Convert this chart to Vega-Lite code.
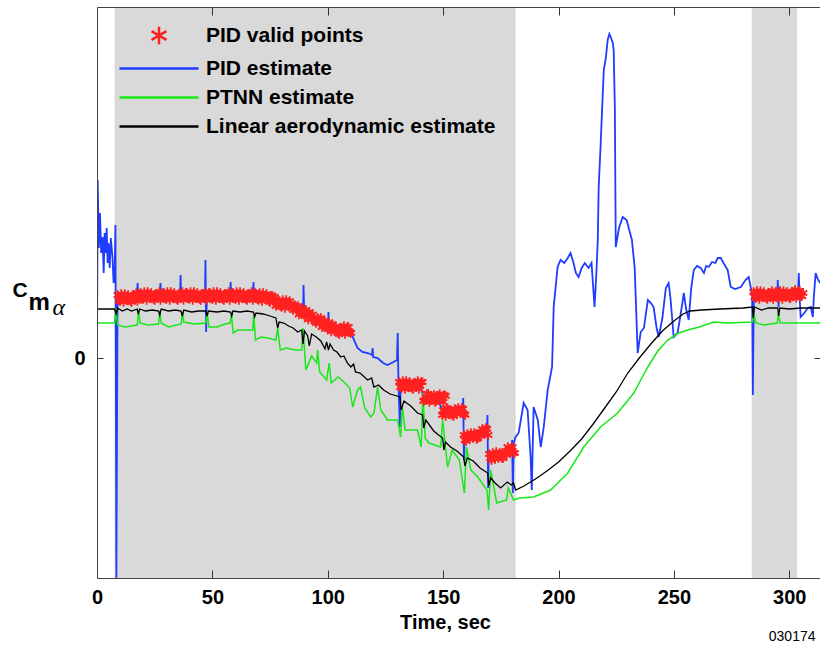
{
"$schema": "https://vega.github.io/schema/vega-lite/v6.json",
"width": 723, "height": 571,
"autosize": {"type": "none"},
"padding": {"left": 97, "top": 7, "right": 0, "bottom": 68},
"background": "white",
"config": {"font": "Liberation Sans", "view": {"stroke": null}},
"title": {"text": "030174", "orient": "bottom", "anchor": "end", "fontSize": 14, "fontWeight": "normal", "font": "Liberation Sans", "color": "#000", "offset": 0, "dy": -2, "dx": -5},
"datasets": {
"shade": [{"a": 7.6, "b": 181.4}, {"a": 283.7, "b": 303.4}],
"blue": [
{"t":0,"y":0.0},{"t":0.3,"y":1.78},{"t":0.8,"y":1.10},{"t":1.3,"y":1.45},{"t":1.8,"y":1.05},{"t":2.4,"y":1.21},{"t":2.9,"y":0.85},{"t":3.3,"y":1.25},{"t":3.7,"y":1.05},{"t":4.2,"y":1.30},{"t":4.6,"y":0.95},{"t":5.0,"y":1.15},{"t":5.5,"y":0.90},{"t":6.0,"y":1.20},{"t":6.7,"y":1.01},{"t":7.2,"y":0.75},{"t":7.6,"y":0.80},{"t":8.0,"y":1.33},{"t":8.4,"y":-2.2},{"t":8.9,"y":0.58},{"t":12,"y":0.60},{"t":17.3,"y":0.60},{"t":17.6,"y":0.75},{"t":17.9,"y":0.58},{"t":22,"y":0.61},{"t":27.2,"y":0.61},{"t":27.5,"y":0.75},{"t":27.8,"y":0.60},{"t":32,"y":0.61},{"t":36.0,"y":0.62},{"t":36.2,"y":0.83},{"t":36.5,"y":0.60},{"t":42,"y":0.62},{"t":46.8,"y":0.62},{"t":47.0,"y":0.98},{"t":47.3,"y":0.26},{"t":47.6,"y":0.60},{"t":52,"y":0.62},{"t":57.7,"y":0.61},{"t":57.9,"y":0.76},{"t":58.2,"y":0.59},{"t":63,"y":0.61},{"t":67.6,"y":0.61},{"t":67.8,"y":0.76},{"t":68.1,"y":0.58},{"t":73,"y":0.60},{"t":76,"y":0.59},{"t":78,"y":0.53},{"t":83,"y":0.53},{"t":87,"y":0.46},{"t":89.3,"y":0.45},{"t":89.5,"y":0.73},{"t":89.8,"y":0.43},{"t":94,"y":0.39},{"t":98,"y":0.34},{"t":100.1,"y":0.32},{"t":100.3,"y":0.46},{"t":100.6,"y":0.29},{"t":105,"y":0.27},{"t":109.5,"y":0.26},{"t":110.8,"y":0.21},{"t":112.9,"y":0.10},{"t":115,"y":0.06},{"t":117.3,"y":0.05},{"t":119.2,"y":0.03},{"t":119.4,"y":0.10},{"t":119.7,"y":0.01},{"t":121.6,"y":0.00},{"t":124,"y":-0.05},{"t":125.9,"y":-0.07},{"t":128.5,"y":-0.04},{"t":130.0,"y":-0.02},{"t":130.3,"y":0.25},{"t":130.6,"y":-0.19},{"t":131.2,"y":-0.69},{"t":131.6,"y":-0.27},{"t":136,"y":-0.27},{"t":140.5,"y":-0.30},{"t":141.5,"y":-0.40},{"t":148,"y":-0.42},{"t":149.5,"y":-0.52},{"t":152,"y":-0.54},{"t":158.4,"y":-0.54},{"t":158.7,"y":-0.40},{"t":159.0,"y":-1.02},{"t":159.3,"y":-0.78},{"t":164,"y":-0.77},{"t":168.9,"y":-0.75},{"t":169.2,"y":-0.57},{"t":169.5,"y":-1.30},{"t":169.8,"y":-0.97},{"t":175,"y":-0.95},{"t":179.6,"y":-0.92},{"t":179.9,"y":-0.82},{"t":180.2,"y":-1.35},{"t":180.6,"y":-0.85},{"t":181.4,"y":-0.79},{"t":182.7,"y":-0.75},{"t":184.9,"y":-0.45},{"t":186.6,"y":-0.52},{"t":187.9,"y":-0.99},{"t":188.4,"y":-1.32},{"t":189.2,"y":-0.49},{"t":191.0,"y":-0.62},{"t":192.3,"y":-0.89},{"t":193.6,"y":-0.69},{"t":195.3,"y":-0.32},{"t":197.2,"y":-0.09},{"t":197.9,"y":0.51},{"t":199.6,"y":0.91},{"t":200.9,"y":0.98},{"t":202.5,"y":0.95},{"t":204.0,"y":1.00},{"t":205.2,"y":1.05},{"t":206.5,"y":0.95},{"t":207.5,"y":0.85},{"t":208.7,"y":0.81},{"t":210,"y":0.90},{"t":211.4,"y":0.95},{"t":213.0,"y":0.90},{"t":214.3,"y":0.95},{"t":215.6,"y":0.51},{"t":216.4,"y":0.85},{"t":217.0,"y":1.18},{"t":217.4,"y":1.71},{"t":218.2,"y":2.11},{"t":219.6,"y":2.88},{"t":220.5,"y":3.00},{"t":221.3,"y":3.18},{"t":222.0,"y":3.24},{"t":222.6,"y":3.21},{"t":223.5,"y":3.15},{"t":223.9,"y":3.08},{"t":224.4,"y":2.5},{"t":224.8,"y":1.11},{"t":226.2,"y":1.30},{"t":227.8,"y":1.41},{"t":229.5,"y":1.38},{"t":231.8,"y":1.18},{"t":233.0,"y":0.90},{"t":234.3,"y":0.05},{"t":235.6,"y":0.26},{"t":237,"y":0.30},{"t":238.7,"y":0.58},{"t":240,"y":0.55},{"t":241.2,"y":0.51},{"t":242.5,"y":0.30},{"t":243.4,"y":0.21},{"t":245,"y":0.40},{"t":246.5,"y":0.70},{"t":247.7,"y":0.75},{"t":248.5,"y":0.60},{"t":249.9,"y":0.21},{"t":251.6,"y":0.25},{"t":253,"y":0.45},{"t":254.3,"y":0.65},{"t":255.2,"y":0.50},{"t":256.4,"y":0.38},{"t":257.5,"y":0.70},{"t":258.6,"y":0.88},{"t":260,"y":0.92},{"t":261.6,"y":0.90},{"t":263,"y":0.85},{"t":264,"y":0.92},{"t":265.1,"y":0.91},{"t":266.5,"y":0.96},{"t":268,"y":0.95},{"t":269,"y":1.00},{"t":270.3,"y":1.00},{"t":271.5,"y":0.95},{"t":273.3,"y":0.88},{"t":274.6,"y":0.71},{"t":276.5,"y":0.69},{"t":279.0,"y":0.71},{"t":281,"y":0.78},{"t":282.4,"y":0.81},{"t":283.5,"y":0.68},{"t":283.9,"y":0.62},{"t":284.2,"y":-0.37},{"t":284.6,"y":0.60},{"t":290,"y":0.62},{"t":294.8,"y":0.62},{"t":295.0,"y":0.78},{"t":295.3,"y":0.51},{"t":295.6,"y":0.60},{"t":303,"y":0.62},{"t":303.7,"y":0.62},{"t":304.1,"y":0.85},{"t":304.6,"y":0.55},{"t":304.9,"y":0.41},{"t":306.5,"y":0.45},{"t":308,"y":0.50},{"t":309.3,"y":0.51},{"t":310.2,"y":0.41},{"t":310.6,"y":0.60},{"t":311.4,"y":0.85},{"t":312.5,"y":0.78},{"t":313.4,"y":0.75}],
"green": [
{"t":0,"y":0.35},{"t":7.6,"y":0.35},{"t":8.2,"y":0.50},{"t":8.9,"y":0.33},{"t":12,"y":0.31},{"t":15,"y":0.32},{"t":17.5,"y":0.33},{"t":18.0,"y":0.48},{"t":18.7,"y":0.35},{"t":22,"y":0.33},{"t":26.7,"y":0.34},{"t":27.2,"y":0.47},{"t":27.8,"y":0.35},{"t":31,"y":0.31},{"t":36.5,"y":0.34},{"t":37.0,"y":0.46},{"t":37.6,"y":0.36},{"t":42,"y":0.34},{"t":47.2,"y":0.35},{"t":47.8,"y":0.44},{"t":48.5,"y":0.31},{"t":52,"y":0.31},{"t":55.5,"y":0.34},{"t":57.7,"y":0.35},{"t":58.2,"y":0.45},{"t":59,"y":0.25},{"t":61,"y":0.28},{"t":65,"y":0.28},{"t":67.5,"y":0.28},{"t":67.9,"y":0.43},{"t":68.7,"y":0.18},{"t":71,"y":0.21},{"t":74,"y":0.20},{"t":77.5,"y":0.18},{"t":78.3,"y":0.30},{"t":79.4,"y":0.08},{"t":82,"y":0.10},{"t":86,"y":0.08},{"t":88.7,"y":0.08},{"t":89.3,"y":0.30},{"t":90.5,"y":-0.12},{"t":93,"y":0.02},{"t":95.2,"y":-0.05},{"t":95.6,"y":0.08},{"t":96.5,"y":-0.14},{"t":99.5,"y":-0.22},{"t":100.6,"y":-0.05},{"t":101.5,"y":-0.25},{"t":104.5,"y":-0.19},{"t":107.5,"y":-0.25},{"t":109.5,"y":-0.30},{"t":110.8,"y":-0.49},{"t":112.9,"y":-0.32},{"t":114.2,"y":-0.29},{"t":116,"y":-0.50},{"t":118.6,"y":-0.59},{"t":120,"y":-0.55},{"t":121.6,"y":-0.29},{"t":123,"y":-0.52},{"t":125.9,"y":-0.62},{"t":130.3,"y":-0.62},{"t":131.6,"y":-0.79},{"t":132.3,"y":-0.49},{"t":133.5,"y":-0.72},{"t":138.9,"y":-0.72},{"t":140.5,"y":-0.89},{"t":141.2,"y":-0.35},{"t":142.2,"y":-0.80},{"t":143.8,"y":-0.85},{"t":148.9,"y":-0.89},{"t":149.8,"y":-0.62},{"t":151.9,"y":-1.09},{"t":153.9,"y":-0.92},{"t":157,"y":-1.02},{"t":159.2,"y":-1.35},{"t":160.1,"y":-0.89},{"t":162,"y":-1.12},{"t":165,"y":-1.19},{"t":169.0,"y":-1.32},{"t":169.7,"y":-1.52},{"t":170.6,"y":-1.12},{"t":173.2,"y":-1.45},{"t":177.5,"y":-1.42},{"t":178.2,"y":-1.30},{"t":180.5,"y":-1.42},{"t":183,"y":-1.40},{"t":189.2,"y":-1.39},{"t":196.6,"y":-1.32},{"t":204,"y":-1.15},{"t":210.9,"y":-0.89},{"t":218.2,"y":-0.69},{"t":225.6,"y":-0.55},{"t":232.6,"y":-0.35},{"t":235.6,"y":-0.22},{"t":238.7,"y":-0.09},{"t":243,"y":0.07},{"t":247.3,"y":0.18},{"t":252,"y":0.25},{"t":256,"y":0.28},{"t":261,"y":0.31},{"t":267.3,"y":0.36},{"t":273.3,"y":0.35},{"t":284.0,"y":0.36},{"t":284.6,"y":0.45},{"t":285.5,"y":0.35},{"t":289,"y":0.33},{"t":294.8,"y":0.35},{"t":295.2,"y":0.45},{"t":296,"y":0.35},{"t":300.6,"y":0.35},{"t":313.4,"y":0.35}],
"black": [
{"t":0,"y":0.49},{"t":7.6,"y":0.49},{"t":8.3,"y":0.44},{"t":8.9,"y":0.50},{"t":11,"y":0.47},{"t":13,"y":0.49},{"t":15,"y":0.47},{"t":17.4,"y":0.49},{"t":17.9,"y":0.44},{"t":18.5,"y":0.49},{"t":21,"y":0.47},{"t":24,"y":0.48},{"t":26.7,"y":0.47},{"t":27.2,"y":0.43},{"t":27.8,"y":0.49},{"t":31,"y":0.47},{"t":34,"y":0.48},{"t":36.4,"y":0.47},{"t":37.0,"y":0.42},{"t":37.6,"y":0.48},{"t":41,"y":0.46},{"t":44,"y":0.47},{"t":47.2,"y":0.47},{"t":47.7,"y":0.42},{"t":48.3,"y":0.47},{"t":52,"y":0.46},{"t":55,"y":0.47},{"t":57.9,"y":0.46},{"t":58.4,"y":0.42},{"t":58.9,"y":0.47},{"t":62,"y":0.46},{"t":65,"y":0.47},{"t":67.8,"y":0.46},{"t":68.3,"y":0.41},{"t":68.9,"y":0.45},{"t":72,"y":0.44},{"t":75,"y":0.42},{"t":77.5,"y":0.40},{"t":78.3,"y":0.30},{"t":78.9,"y":0.36},{"t":81,"y":0.35},{"t":83,"y":0.32},{"t":85,"y":0.30},{"t":87,"y":0.26},{"t":88.7,"y":0.28},{"t":89.3,"y":0.14},{"t":89.9,"y":0.27},{"t":91.3,"y":0.22},{"t":92,"y":0.12},{"t":93,"y":0.24},{"t":95,"y":0.21},{"t":97,"y":0.17},{"t":98.8,"y":0.09},{"t":99.5,"y":0.16},{"t":100.3,"y":0.08},{"t":101,"y":0.14},{"t":102.5,"y":0.08},{"t":104,"y":0.06},{"t":105.6,"y":0.01},{"t":107,"y":0.02},{"t":108.5,"y":-0.05},{"t":110,"y":-0.09},{"t":111.2,"y":-0.06},{"t":112,"y":-0.14},{"t":114,"y":-0.15},{"t":117.3,"y":-0.22},{"t":119,"y":-0.20},{"t":120,"y":-0.29},{"t":122,"y":-0.27},{"t":124.2,"y":-0.32},{"t":127,"y":-0.36},{"t":130,"y":-0.38},{"t":131.3,"y":-0.39},{"t":131.8,"y":-0.52},{"t":133,"y":-0.43},{"t":136,"y":-0.48},{"t":138.9,"y":-0.55},{"t":141.1,"y":-0.57},{"t":141.6,"y":-0.70},{"t":142.5,"y":-0.62},{"t":145.9,"y":-0.73},{"t":148,"y":-0.77},{"t":149.8,"y":-0.80},{"t":150.3,"y":-0.92},{"t":151,"y":-0.84},{"t":153.2,"y":-0.89},{"t":156,"y":-0.93},{"t":158.9,"y":-0.99},{"t":159.4,"y":-1.08},{"t":160.5,"y":-1.00},{"t":163,"y":-1.03},{"t":166,"y":-1.10},{"t":169.3,"y":-1.15},{"t":169.8,"y":-1.28},{"t":170.6,"y":-1.20},{"t":172.5,"y":-1.25},{"t":174.9,"y":-1.30},{"t":177.8,"y":-1.24},{"t":179.5,"y":-1.27},{"t":180.5,"y":-1.25},{"t":181.4,"y":-1.32},{"t":185,"y":-1.28},{"t":190,"y":-1.21},{"t":195,"y":-1.13},{"t":200,"y":-1.04},{"t":205,"y":-0.93},{"t":210,"y":-0.81},{"t":215,"y":-0.66},{"t":220,"y":-0.50},{"t":225,"y":-0.34},{"t":230,"y":-0.15},{"t":235,"y":0.00},{"t":240,"y":0.14},{"t":245,"y":0.27},{"t":250,"y":0.37},{"t":254,"y":0.44},{"t":257,"y":0.47},{"t":262,"y":0.48},{"t":270,"y":0.49},{"t":280,"y":0.50},{"t":284.0,"y":0.51},{"t":284.4,"y":0.40},{"t":284.8,"y":0.51},{"t":288,"y":0.48},{"t":291,"y":0.50},{"t":295.0,"y":0.50},{"t":295.4,"y":0.42},{"t":295.9,"y":0.50},{"t":300,"y":0.49},{"t":305,"y":0.50},{"t":313.4,"y":0.50}],
"red": [
{"t":9,"y":0.63},{"t":10,"y":0.57},{"t":11,"y":0.61},{"t":12,"y":0.64},{"t":13,"y":0.58},{"t":14,"y":0.60},{"t":15,"y":0.56},{"t":16,"y":0.63},{"t":17,"y":0.65},{"t":18,"y":0.60},{"t":19,"y":0.65},{"t":20,"y":0.59},{"t":21,"y":0.63},{"t":22,"y":0.66},{"t":23,"y":0.60},{"t":24,"y":0.62},{"t":25,"y":0.58},{"t":26,"y":0.64},{"t":27,"y":0.66},{"t":28,"y":0.61},{"t":29,"y":0.65},{"t":30,"y":0.59},{"t":31,"y":0.63},{"t":32,"y":0.66},{"t":33,"y":0.60},{"t":34,"y":0.62},{"t":35,"y":0.58},{"t":36,"y":0.64},{"t":37,"y":0.66},{"t":38,"y":0.61},{"t":39,"y":0.65},{"t":40,"y":0.59},{"t":41,"y":0.63},{"t":42,"y":0.66},{"t":43,"y":0.60},{"t":44,"y":0.62},{"t":45,"y":0.58},{"t":46,"y":0.64},{"t":47,"y":0.66},{"t":48,"y":0.61},{"t":49,"y":0.65},{"t":50,"y":0.59},{"t":51,"y":0.63},{"t":52,"y":0.66},{"t":53,"y":0.60},{"t":54,"y":0.62},{"t":55,"y":0.58},{"t":56,"y":0.64},{"t":57,"y":0.66},{"t":58,"y":0.61},{"t":59,"y":0.65},{"t":60,"y":0.59},{"t":61,"y":0.63},{"t":62,"y":0.66},{"t":63,"y":0.60},{"t":64,"y":0.62},{"t":65,"y":0.58},{"t":66,"y":0.64},{"t":67,"y":0.66},{"t":68,"y":0.61},{"t":69,"y":0.64},{"t":70,"y":0.58},{"t":71,"y":0.62},{"t":72,"y":0.65},{"t":73,"y":0.59},{"t":74,"y":0.60},{"t":75,"y":0.56},{"t":76,"y":0.62},{"t":77,"y":0.61},{"t":78,"y":0.54},{"t":79,"y":0.57},{"t":80,"y":0.51},{"t":81,"y":0.55},{"t":82,"y":0.58},{"t":83,"y":0.52},{"t":84,"y":0.54},{"t":85,"y":0.48},{"t":86,"y":0.52},{"t":87,"y":0.52},{"t":88,"y":0.46},{"t":89,"y":0.49},{"t":90,"y":0.42},{"t":91,"y":0.44},{"t":92,"y":0.46},{"t":93,"y":0.39},{"t":94,"y":0.40},{"t":95,"y":0.35},{"t":96,"y":0.39},{"t":97,"y":0.40},{"t":98,"y":0.33},{"t":99,"y":0.36},{"t":100,"y":0.29},{"t":101,"y":0.32},{"t":102,"y":0.34},{"t":103,"y":0.27},{"t":104,"y":0.28},{"t":105,"y":0.24},{"t":106,"y":0.30},{"t":107,"y":0.32},{"t":108,"y":0.27},{"t":109,"y":0.31},{"t":110,"y":0.25},
{"t":9.5,"y":0.58},{"t":10.5,"y":0.64},{"t":11.5,"y":0.56},{"t":12.5,"y":0.61},{"t":13.5,"y":0.63},{"t":14.5,"y":0.57},{"t":15.5,"y":0.62},{"t":16.5,"y":0.60},{"t":17.5,"y":0.57},{"t":18.5,"y":0.64},{"t":19.5,"y":0.60},{"t":20.5,"y":0.66},{"t":21.5,"y":0.58},{"t":22.5,"y":0.63},{"t":23.5,"y":0.65},{"t":24.5,"y":0.59},{"t":25.5,"y":0.64},{"t":26.5,"y":0.61},{"t":27.5,"y":0.58},{"t":28.5,"y":0.65},{"t":29.5,"y":0.60},{"t":30.5,"y":0.66},{"t":31.5,"y":0.58},{"t":32.5,"y":0.63},{"t":33.5,"y":0.65},{"t":34.5,"y":0.59},{"t":35.5,"y":0.64},{"t":36.5,"y":0.61},{"t":37.5,"y":0.58},{"t":38.5,"y":0.65},{"t":39.5,"y":0.60},{"t":40.5,"y":0.66},{"t":41.5,"y":0.58},{"t":42.5,"y":0.63},{"t":43.5,"y":0.65},{"t":44.5,"y":0.59},{"t":45.5,"y":0.64},{"t":46.5,"y":0.61},{"t":47.5,"y":0.58},{"t":48.5,"y":0.65},{"t":49.5,"y":0.60},{"t":50.5,"y":0.66},{"t":51.5,"y":0.58},{"t":52.5,"y":0.63},{"t":53.5,"y":0.65},{"t":54.5,"y":0.59},{"t":55.5,"y":0.64},{"t":56.5,"y":0.61},{"t":57.5,"y":0.58},{"t":58.5,"y":0.65},{"t":59.5,"y":0.60},{"t":60.5,"y":0.66},{"t":61.5,"y":0.58},{"t":62.5,"y":0.63},{"t":63.5,"y":0.65},{"t":64.5,"y":0.59},{"t":65.5,"y":0.64},{"t":66.5,"y":0.61},{"t":67.5,"y":0.58},{"t":68.5,"y":0.65},{"t":69.5,"y":0.59},{"t":70.5,"y":0.65},{"t":71.5,"y":0.57},{"t":72.5,"y":0.62},{"t":73.5,"y":0.64},{"t":74.5,"y":0.57},{"t":75.5,"y":0.62},{"t":76.5,"y":0.57},{"t":77.5,"y":0.52},{"t":78.5,"y":0.57},{"t":79.5,"y":0.52},{"t":80.5,"y":0.58},{"t":81.5,"y":0.50},{"t":82.5,"y":0.55},{"t":83.5,"y":0.57},{"t":84.5,"y":0.50},{"t":85.5,"y":0.53},{"t":86.5,"y":0.48},{"t":87.5,"y":0.435},{"t":88.5,"y":0.495},{"t":89.5,"y":0.435},{"t":90.5,"y":0.48},{"t":91.5,"y":0.385},{"t":92.5,"y":0.425},{"t":93.5,"y":0.435},{"t":94.5,"y":0.365},{"t":95.5,"y":0.40},{"t":96.5,"y":0.355},{"t":97.5,"y":0.31},{"t":98.5,"y":0.365},{"t":99.5,"y":0.305},{"t":100.5,"y":0.355},{"t":101.5,"y":0.265},{"t":102.5,"y":0.305},{"t":103.5,"y":0.315},{"t":104.5,"y":0.25},{"t":105.5,"y":0.30},{"t":106.5,"y":0.27},{"t":107.5,"y":0.24},{"t":108.5,"y":0.31},{"t":109.5,"y":0.26},
{"t":131,"y":-0.24},{"t":132,"y":-0.30},{"t":133,"y":-0.26},{"t":134,"y":-0.23},{"t":135,"y":-0.29},{"t":136,"y":-0.27},{"t":137,"y":-0.31},{"t":138,"y":-0.25},{"t":139,"y":-0.23},{"t":140,"y":-0.28},{"t":141,"y":-0.24},
{"t":131.5,"y":-0.29},{"t":132.5,"y":-0.23},{"t":133.5,"y":-0.31},{"t":134.5,"y":-0.26},{"t":135.5,"y":-0.24},{"t":136.5,"y":-0.30},{"t":137.5,"y":-0.25},{"t":138.5,"y":-0.28},{"t":139.5,"y":-0.31},{"t":140.5,"y":-0.24},
{"t":141.5,"y":-0.43},{"t":142.5,"y":-0.39},{"t":143.5,"y":-0.36},{"t":144.5,"y":-0.42},{"t":145.5,"y":-0.40},{"t":146.5,"y":-0.44},{"t":147.5,"y":-0.38},{"t":148.5,"y":-0.36},{"t":149.5,"y":-0.41},{"t":150.5,"y":-0.37},
{"t":142,"y":-0.42},{"t":143,"y":-0.36},{"t":144,"y":-0.44},{"t":145,"y":-0.39},{"t":146,"y":-0.37},{"t":147,"y":-0.43},{"t":148,"y":-0.38},{"t":149,"y":-0.41},{"t":150,"y":-0.44},{"t":151,"y":-0.38},
{"t":149.6,"y":-0.57},{"t":150.6,"y":-0.53},{"t":151.5,"y":-0.50},{"t":152.5,"y":-0.56},{"t":153.5,"y":-0.54},{"t":154.5,"y":-0.58},{"t":155.5,"y":-0.52},{"t":156.5,"y":-0.50},{"t":157.5,"y":-0.55},{"t":158.5,"y":-0.51},{"t":159.5,"y":-0.57},
{"t":150.1,"y":-0.52},{"t":151.1,"y":-0.58},{"t":152,"y":-0.51},{"t":153,"y":-0.55},{"t":154,"y":-0.57},{"t":155,"y":-0.51},{"t":156,"y":-0.56},{"t":157,"y":-0.53},{"t":158,"y":-0.50},{"t":159.1,"y":-0.56},
{"t":159,"y":-0.77},{"t":160,"y":-0.83},{"t":161,"y":-0.78},{"t":162,"y":-0.75},{"t":163,"y":-0.80},{"t":164,"y":-0.77},{"t":165,"y":-0.80},{"t":166,"y":-0.74},{"t":167,"y":-0.71},{"t":168,"y":-0.75},{"t":169,"y":-0.71},{"t":169.5,"y":-0.77},
{"t":159.5,"y":-0.82},{"t":160.5,"y":-0.76},{"t":161.5,"y":-0.81},{"t":162.5,"y":-0.78},{"t":163.5,"y":-0.75},{"t":164.5,"y":-0.81},{"t":165.5,"y":-0.76},{"t":166.5,"y":-0.78},{"t":167.5,"y":-0.75},{"t":168.5,"y":-0.70},
{"t":170,"y":-0.96},{"t":171,"y":-1.02},{"t":172,"y":-0.97},{"t":173,"y":-0.94},{"t":174,"y":-1.00},{"t":175,"y":-0.97},{"t":176,"y":-1.00},{"t":177,"y":-0.93},{"t":178,"y":-0.89},{"t":179,"y":-0.94},{"t":180,"y":-0.89},{"t":181,"y":-0.95},
{"t":170.5,"y":-1.00},{"t":171.5,"y":-0.95},{"t":172.5,"y":-1.01},{"t":173.5,"y":-0.97},{"t":174.5,"y":-0.95},{"t":175.5,"y":-1.00},{"t":176.5,"y":-0.95},{"t":177.5,"y":-0.97},{"t":178.5,"y":-0.93},{"t":179.5,"y":-0.90},{"t":180.5,"y":-0.95},
{"t":284.5,"y":0.66},{"t":285.5,"y":0.60},{"t":286.5,"y":0.64},{"t":287.5,"y":0.67},{"t":288.5,"y":0.61},{"t":289.5,"y":0.63},{"t":290.5,"y":0.59},{"t":291.5,"y":0.65},{"t":292.5,"y":0.67},{"t":293.5,"y":0.62},{"t":294.5,"y":0.66},{"t":295.5,"y":0.60},{"t":296.5,"y":0.64},{"t":297.5,"y":0.67},{"t":298.5,"y":0.61},{"t":299.5,"y":0.64},{"t":300.5,"y":0.60},{"t":301.5,"y":0.66},{"t":302.5,"y":0.68},{"t":303.5,"y":0.63},{"t":304.5,"y":0.67},{"t":305.5,"y":0.62},
{"t":285,"y":0.61},{"t":286,"y":0.67},{"t":287,"y":0.59},{"t":288,"y":0.64},{"t":289,"y":0.66},{"t":290,"y":0.60},{"t":291,"y":0.65},{"t":292,"y":0.62},{"t":293,"y":0.59},{"t":294,"y":0.66},{"t":295,"y":0.61},{"t":296,"y":0.67},{"t":297,"y":0.59},{"t":298,"y":0.64},{"t":299,"y":0.66},{"t":300,"y":0.60},{"t":301,"y":0.65},{"t":302,"y":0.63},{"t":303,"y":0.60},{"t":304,"y":0.67},{"t":305,"y":0.62},{"t":306,"y":0.65}]
},
"layer": [
{"data": {"name": "shade"},
 "mark": {"type": "rect", "color": "#d9d9d9"},
 "encoding": {
  "x": {"field": "a", "type": "quantitative", "scale": {"domain": [0, 313.3], "nice": false, "zero": false},
   "axis": {"orient": "bottom", "values": [0, 50, 100, 150, 200, 250, 300], "tickSize": -8, "tickColor": "#333", "domainColor": "#444", "zindex": 1, "grid": false, "labelFlush": false, "labelFont": "Liberation Sans", "labelFontWeight": "bold", "labelFontSize": 20, "labelColor": "#000", "labelBaseline": "alphabetic", "labelPadding": 33.5, "title": "Time, sec", "titleFont": "Liberation Sans", "titleFontSize": 20, "titleFontWeight": "bold", "titleColor": "#000", "titleX": 348, "titleY": 50, "titleAlign": "center", "titleBaseline": "alphabetic", "titleAngle": 0}},
  "x2": {"field": "b"}
 }},
{"mark": {"type": "rule", "color": "#777", "strokeDash": [1.5, 5.5], "strokeWidth": 1.2},
 "encoding": {
  "y": {"datum": 0, "type": "quantitative", "scale": {"domain": [-2.2, 3.51], "nice": false, "zero": false},
   "axis": {"orient": "left", "values": [0], "tickSize": -6, "tickColor": "#333", "domainColor": "#444", "zindex": 1, "grid": false, "labelFlush": false, "labelFont": "Liberation Sans", "labelFontWeight": "bold", "labelFontSize": 20, "labelColor": "#000", "labelPadding": 18, "title": "C", "titleFont": "Liberation Sans", "titleFontSize": 21, "titleFontWeight": "bold", "titleColor": "#000", "titleAngle": 0, "titleX": -85, "titleY": 289, "titleAlign": "left", "titleBaseline": "alphabetic"}}
 }},
{"data": {"name": "blue"},
 "transform": [{"calculate": "'p'", "as": "s"}],
 "mark": {"type": "line", "strokeWidth": 1.8, "clip": true},
 "encoding": {
  "x": {"field": "t", "type": "quantitative", "scale": {"domain": [0, 313.3], "nice": false, "zero": false},
   "axis": {"orient": "top", "values": [50, 100, 150, 200, 250, 300], "tickSize": -8, "tickColor": "#333", "domainColor": "#444", "zindex": 1, "grid": false, "labels": false, "title": "α", "titleFont": "Liberation Serif", "titleFontStyle": "italic", "titleFontSize": 24, "titleFontWeight": "normal", "titleColor": "#000", "titleAngle": 0, "titleX": -45, "titleY": 307, "titleAlign": "left", "titleBaseline": "alphabetic"}},
  "y": {"field": "y", "type": "quantitative", "scale": {"domain": [-2.2, 3.51], "nice": false, "zero": false},
   "axis": {"orient": "right", "values": [0], "tickSize": -6, "tickColor": "#333", "domainColor": "#444", "zindex": 1, "grid": false, "labels": false, "title": "m", "titleFont": "Liberation Sans", "titleFontSize": 24, "titleFontWeight": "bold", "titleColor": "#000", "titleAngle": 0, "titleX": -792, "titleY": 302, "titleAlign": "left", "titleBaseline": "alphabetic"}},
  "color": {"field": "s", "type": "nominal",
   "scale": {"domain": ["v", "p", "n", "l"], "range": ["#ff2020", "#1f3cff", "#18e818", "#000000"]},
   "legend": {"orient": "none", "legendX": 50.5, "legendY": 17, "title": null, "padding": 0, "offset": 0,
    "labelExpr": "{'v': 'PID valid points', 'p': 'PID estimate', 'n': 'PTNN estimate', 'l': 'Linear aerodynamic estimate'}[datum.label]",
    "labelFont": "Liberation Sans", "labelFontWeight": "bold", "labelFontSize": 21, "labelColor": "#000", "labelOffset": 35.5, "labelLimit": 400,
    "symbolSize": 390, "symbolStrokeWidth": 2.5, "rowPadding": 7,
    "encode": {"symbols": {"update": {
      "shape": {"signal": "datum.value === 'v' ? 'M0,-1L0,1M-0.866,-0.5L0.866,0.5M-0.866,0.5L0.866,-0.5' : 'M-4,0L4,0'"},
      "size": {"signal": "datum.value === 'v' ? 300 : 390"},
      "fill": {"value": "transparent"},
      "strokeWidth": {"value": 2.5}}}}}}
 }},
{"data": {"name": "green"},
 "transform": [{"calculate": "'n'", "as": "s"}],
 "mark": {"type": "line", "strokeWidth": 1.5, "clip": true},
 "encoding": {
  "x": {"field": "t", "type": "quantitative", "axis": null},
  "y": {"field": "y", "type": "quantitative", "axis": null},
  "color": {"field": "s", "type": "nominal"}
 }},
{"data": {"name": "black"},
 "transform": [{"calculate": "'l'", "as": "s"}],
 "mark": {"type": "line", "strokeWidth": 1.3, "clip": true},
 "encoding": {
  "x": {"field": "t", "type": "quantitative", "axis": null},
  "y": {"field": "y", "type": "quantitative", "axis": null},
  "color": {"field": "s", "type": "nominal"}
 }},
{"data": {"name": "red"},
 "transform": [{"calculate": "'v'", "as": "s"}],
 "mark": {"type": "point", "shape": "M0,-1L0,1M-0.866,-0.5L0.866,0.5M-0.866,0.5L0.866,-0.5", "filled": false, "size": 90, "strokeWidth": 1.8, "opacity": 1, "clip": true},
 "encoding": {
  "x": {"field": "t", "type": "quantitative", "axis": null},
  "y": {"field": "y", "type": "quantitative", "axis": null},
  "color": {"field": "s", "type": "nominal"}
 }}
],
"resolve": {"axis": {"x": "independent", "y": "independent"}}
}
